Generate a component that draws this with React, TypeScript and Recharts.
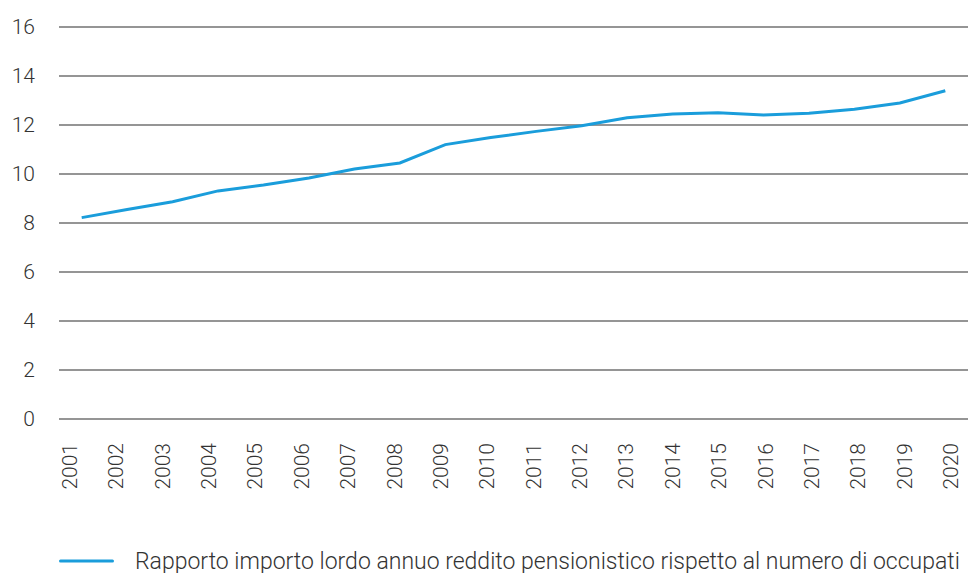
import React from "react";
import { LineChart, Line, XAxis, YAxis, CartesianGrid, Legend } from "recharts";

const years = ["2001","2002","2003","2004","2005","2006","2007","2008","2009","2010","2011","2012","2013","2014","2015","2016","2017","2018","2019","2020"];
const ratio = [8.22, 8.55, 8.87, 9.31, 9.55, 9.84, 10.2, 10.45, 11.2, 11.49, 11.74, 11.97, 12.3, 12.45, 12.5, 12.41, 12.48, 12.64, 12.9, 13.4];
const yTicks = [0, 2, 4, 6, 8, 10, 12, 14, 16];
const seriesName = "Rapporto importo lordo annuo reddito pensionistico rispetto al numero di occupati";

const data = years.map((y, i) => ({ year: y, value: ratio[i] }));

const FONT = "Roboto, 'Liberation Sans', Arial, sans-serif";
const TEXT = "#333333";
const LINE = "#1a9ddb";

const YearTick = (props: any) => {
  const { x, y, payload } = props;
  return (
    <text
      x={x}
      y={y}
      transform={`rotate(-90, ${x}, ${y})`}
      textAnchor="end"
      dominantBaseline="central"
      fill={TEXT}
      fontSize={21}
      fontFamily={FONT}
      fontWeight={300}
    >
      {payload.value}
    </text>
  );
};

const LegendContent = () => (
  <div style={{ display: "flex", alignItems: "center", height: 24, paddingLeft: 59, fontFamily: FONT, fontWeight: 300, fontSize: 23, color: TEXT, whiteSpace: "nowrap" }}>
    <svg width={55} height={6} style={{ display: "block" }}>
      <line x1={1.5} y1={3} x2={53.5} y2={3} stroke={LINE} strokeWidth={3} strokeLinecap="round" />
    </svg>
    <span style={{ marginLeft: 21 }}>{seriesName}</span>
  </div>
);

export default function App() {
  return (
    <div style={{ position: "absolute", left: 0, top: 0, width: 974, height: 573, background: "#fff" }}>
      <LineChart width={974} height={573} data={data} margin={{ top: 27, right: 6, bottom: 0, left: 0 }}>
        <CartesianGrid xAxisId="pts" yAxisId="y" vertical={false} stroke="#959595" strokeWidth={2} />
        <XAxis xAxisId="pts" dataKey="year" hide padding={{ left: 22.7, right: 22.7 }} />
        <XAxis
          xAxisId="lbl"
          dataKey="year"
          axisLine={false}
          tickLine={false}
          tickSize={0}
          tickMargin={24}
          height={130}
          interval={0}
          padding={{ left: 11, right: 17 }}
          tick={<YearTick />}
        />
        <YAxis
          yAxisId="y"
          domain={[0, 16]}
          ticks={yTicks}
          axisLine={false}
          tickLine={false}
          tickSize={0}
          tickMargin={24}
          width={59}
          tick={{ fill: TEXT, fontSize: 21, fontFamily: FONT, fontWeight: 300 }}
        />
        <Legend verticalAlign="bottom" align="left" content={<LegendContent />} wrapperStyle={{ left: 0, width: 974 }} />
        <Line
          xAxisId="pts"
          yAxisId="y"
          type="linear"
          dataKey="value"
          name={seriesName}
          stroke={LINE}
          strokeWidth={3}
          dot={false}
          isAnimationActive={false}
        />
      </LineChart>
    </div>
  );
}
